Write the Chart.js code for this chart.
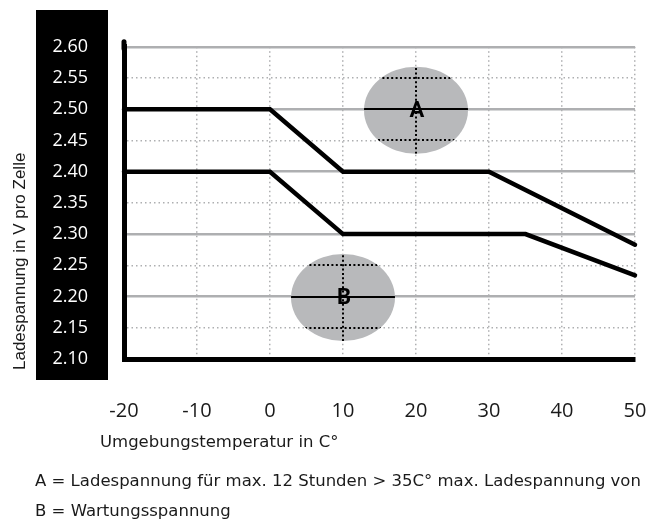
<!DOCTYPE html>
<html>
<head>
<meta charset="utf-8">
<script src="https://cdn.jsdelivr.net/npm/chart.js@4.4.1/dist/chart.umd.min.js"></script>
<style>
    html, body { margin: 0; padding: 0; background: #fff; }
    #wrap { position: relative; width: 648px; height: 522px; overflow: hidden; }
    #chart { position: absolute; left: 0; top: 0; }
    .txt { position: absolute; white-space: nowrap; color: #1a1a1a; line-height: 1; }
    #y-titel { font: 17px "Liberation Sans", Arial, sans-serif; left: 10px; top: 370px; transform-origin: left top; transform: rotate(-90deg); }
    #x-titel { font: 16.5px "DejaVu Sans", sans-serif; left: 100px; top: 432px; }
    .fussnote { font: 16.5px "DejaVu Sans", sans-serif; left: 35px; }
    #note-a { top: 471px; }
    #note-b { top: 501px; }
</style>
</head>
<body>
<div id="wrap">
    <canvas id="chart" width="648" height="522"></canvas>
    <div class="txt" id="y-titel">Ladespannung in V pro Zelle</div>
    <div class="txt" id="x-titel">Umgebungstemperatur in C°</div>
    <div class="txt fussnote" id="note-a">A = Ladespannung für max. 12 Stunden &gt; 35C° max. Ladespannung von</div>
    <div class="txt fussnote" id="note-b">B = Wartungsspannung</div>
</div>
<script>
// Kurve A: Ladespannung
const ladeTemp = [-20, 0, 10, 30, 50];
const ladeSpannung = [2.50, 2.50, 2.40, 2.40, 2.283];
// Kurve B: Wartungsspannung
const wartTemp = [-20, 0, 10, 35, 50];
const wartSpannung = [2.40, 2.40, 2.30, 2.30, 2.234];
// Markierungen (Ellipsen mit Buchstaben)
const markerText = ['A', 'B'];
const markerTemp = [20, 10];
const markerSpannung = [2.50, 2.20];
// Achsen
const xMin = -20, xMax = 50, xStep = 10;
const yMin = 2.10, yMax = 2.60, yStep = 0.05;

const istHaupt = (v) => Math.round(v * 100) % 10 === 0;

const zuPunkten = (xs, ys) => xs.map((x, i) => ({ x: x, y: ys[i] }));

const hintergrund = {
    id: 'hintergrund',
    beforeDraw(chart) {
        const ctx = chart.ctx;
        ctx.save();
        ctx.fillStyle = '#000';
        ctx.fillRect(36, 10, 72, 370);
        ctx.restore();
    },
    afterDraw(chart) {
        // Y-Achse oben etwas ueberstehen lassen
        const { ctx, chartArea } = chart;
        ctx.save();
        ctx.strokeStyle = '#000';
        ctx.lineWidth = 5;
        ctx.lineCap = 'round';
        ctx.beginPath();
        ctx.moveTo(chartArea.left, chartArea.top - 5);
        ctx.lineTo(chartArea.left, chartArea.top + 2);
        ctx.stroke();
        ctx.restore();
    }
};

const ellipsen = {
    id: 'ellipsen',
    beforeDatasetsDraw(chart) {
        const { ctx, scales: { x, y } } = chart;
        markerTemp.forEach((t, i) => {
            const cx = x.getPixelForValue(t);
            const cy = y.getPixelForValue(markerSpannung[i]);
            ctx.save();
            ctx.beginPath();
            ctx.ellipse(cx, cy + 1, 52, 43.5, 0, 0, Math.PI * 2);
            ctx.fillStyle = '#b8b9bb';
            ctx.fill();
            ctx.clip();
            // Raster innerhalb der Ellipse dunkel nachziehen
            ctx.strokeStyle = '#000';
            y.ticks.forEach(tk => {
                const py = Math.round(y.getPixelForValue(tk.value));
                ctx.lineWidth = 2;
                ctx.setLineDash(istHaupt(tk.value) ? [] : [2, 2.4]);
                ctx.beginPath();
                ctx.moveTo(cx - 60, py);
                ctx.lineTo(cx + 60, py);
                ctx.stroke();
            });
            x.ticks.forEach(tk => {
                const px = Math.round(x.getPixelForValue(tk.value));
                ctx.lineWidth = 2;
                ctx.setLineDash([2, 2.4]);
                ctx.beginPath();
                ctx.moveTo(px, cy - 50);
                ctx.lineTo(px, cy + 50);
                ctx.stroke();
            });
            ctx.restore();
        });
    },
    afterDatasetsDraw(chart) {
        const { ctx, scales: { x, y } } = chart;
        ctx.save();
        ctx.fillStyle = '#000';
        ctx.font = 'bold 22px Roboto, sans-serif';
        ctx.textAlign = 'center';
        ctx.textBaseline = 'middle';
        markerText.forEach((txt, i) => {
            ctx.fillText(txt, x.getPixelForValue(markerTemp[i]) + 1, y.getPixelForValue(markerSpannung[i]) + 2);
        });
        ctx.restore();
    }
};

new Chart(document.getElementById('chart'), {
    type: 'line',
    data: {
        datasets: [
            {
                label: 'A',
                data: zuPunkten(ladeTemp, ladeSpannung),
                borderColor: '#000',
                borderWidth: 4.5,
                pointRadius: 0,
                borderJoinStyle: 'miter',
                borderCapStyle: 'round',
                tension: 0,
                clip: false
            },
            {
                label: 'B',
                data: zuPunkten(wartTemp, wartSpannung),
                borderColor: '#000',
                borderWidth: 4.5,
                pointRadius: 0,
                borderJoinStyle: 'miter',
                borderCapStyle: 'round',
                tension: 0,
                clip: false
            }
        ]
    },
    options: {
        responsive: false,
        animation: false,
        layout: { padding: { top: 46, right: 13, left: 0, bottom: 0 } },
        plugins: {
            legend: { display: false },
            tooltip: { enabled: false }
        },
        scales: {
            x: {
                type: 'linear',
                min: xMin,
                max: xMax,
                afterFit: (scale) => {
                    scale.height = 163;
                    scale.paddingLeft = 0;
                    scale.paddingRight = 0;
                },
                ticks: {
                    stepSize: xStep,
                    padding: 40,
                    color: '#1a1a1a',
                    font: { family: '"Open Sans"', size: 20 }
                },
                grid: {
                    drawTicks: false,
                    lineWidth: 1.5,
                    color: (c) => (c.tick && c.tick.value === xMin) ? 'rgba(0,0,0,0)' : '#aeafb1'
                },
                border: {
                    display: true,
                    color: '#000',
                    width: 5,
                    dash: (c) => c.tick ? [1.5, 3] : []
                }
            },
            y: {
                min: yMin,
                max: yMax,
                afterFit: (scale) => { scale.width = 124; },
                ticks: {
                    stepSize: yStep,
                    padding: 36,
                    color: '#fff',
                    font: { family: '"Open Sans"', size: 18 },
                    callback: (v) => v.toFixed(2)
                },
                grid: {
                    drawTicks: false,
                    lineWidth: (c) => (c.tick && istHaupt(c.tick.value)) ? 2.5 : 1.5,
                    color: (c) => (c.tick && Math.abs(c.tick.value - yMin) < 1e-6) ? 'rgba(0,0,0,0)' : '#aeafb1'
                },
                border: {
                    display: true,
                    color: '#000',
                    width: 5,
                    dash: (c) => (c.tick && !istHaupt(c.tick.value)) ? [1.5, 3] : []
                }
            }
        }
    },
    plugins: [hintergrund, ellipsen]
});
</script>
</body>
</html>
